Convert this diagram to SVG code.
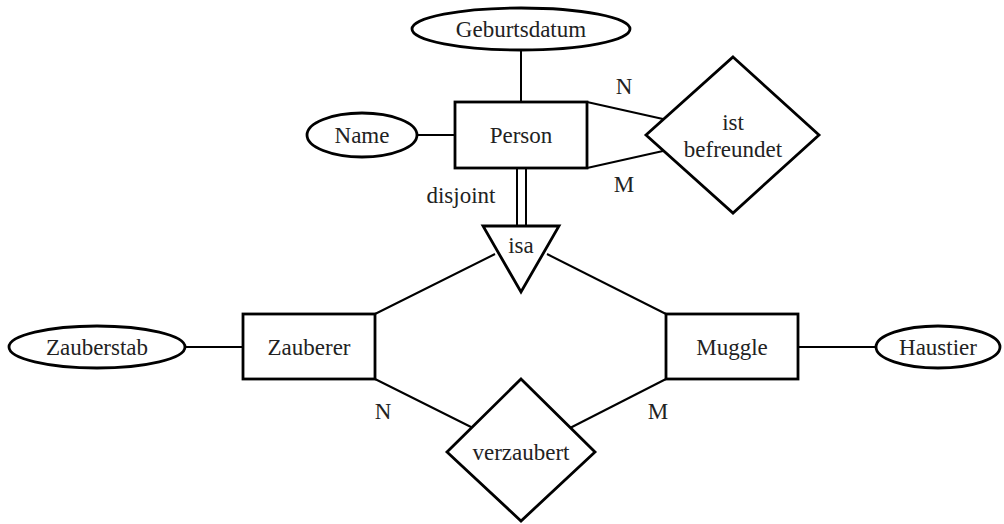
<svg xmlns="http://www.w3.org/2000/svg" width="1004" height="524" viewBox="0 0 1004 524">
<style>
.s{fill:#fff;stroke:#000;stroke-width:2.8}
.l{stroke:#000;stroke-width:2;fill:none}
.t{fill:#222;text-anchor:middle}
</style>
<rect width="1004" height="524" fill="#fff"/>
<g font-family="Liberation Serif, DejaVu Serif, serif" font-size="23" fill="#222" text-anchor="middle">
<g id="connectors">
<line class="l" x1="521" y1="50" x2="521" y2="102"/>
<line class="l" x1="417" y1="135" x2="455" y2="135"/>
<line class="l" x1="517" y1="168" x2="517" y2="226"/>
<line class="l" x1="526" y1="168" x2="526" y2="226"/>
<line class="l" x1="587" y1="102" x2="663" y2="119"/>
<line class="l" x1="587" y1="168" x2="663" y2="151"/>
<line class="l" x1="495" y1="254" x2="375" y2="314"/>
<line class="l" x1="547" y1="254" x2="666" y2="314"/>
<line class="l" x1="184" y1="347" x2="243" y2="347"/>
<line class="l" x1="798" y1="347" x2="876" y2="347"/>
<line class="l" x1="375" y1="379" x2="473" y2="428"/>
<line class="l" x1="666" y1="379" x2="570" y2="428"/>
<text class="t" x="624" y="94">N</text>
<text class="t" x="624" y="192">M</text>
<text class="t" x="461" y="203">disjoint</text>
<text class="t" x="383" y="419">N</text>
<text class="t" x="658" y="419">M</text>
</g>
<g id="geburtsdatum"><ellipse class="s" cx="521" cy="29" rx="109" ry="21"/><text class="t" x="521" y="37">Geburtsdatum</text></g>
<g id="name"><ellipse class="s" cx="362" cy="135" rx="55" ry="22"/><text class="t" x="362" y="143">Name</text></g>
<g id="person"><rect class="s" x="455" y="102" width="132" height="66"/><text class="t" x="521" y="143">Person</text></g>
<g id="ist-befreundet"><polygon class="s" points="733,57 819,135 733,213 646,135"/><text class="t" x="733" y="130">ist</text><text class="t" x="733" y="157">befreundet</text></g>
<g id="isa"><polygon class="s" points="483,226 559,226 521,292"/><text class="t" x="521" y="253">isa</text></g>
<g id="zauberer"><rect class="s" x="243" y="314" width="132" height="65"/><text class="t" x="309" y="355">Zauberer</text></g>
<g id="zauberstab"><ellipse class="s" cx="97" cy="347" rx="88" ry="21"/><text class="t" x="97" y="355">Zauberstab</text></g>
<g id="muggle"><rect class="s" x="666" y="314" width="132" height="65"/><text class="t" x="732" y="355">Muggle</text></g>
<g id="haustier"><ellipse class="s" cx="938" cy="347" rx="62" ry="21"/><text class="t" x="938" y="355">Haustier</text></g>
<g id="verzaubert"><polygon class="s" points="521,379 595,452 521,521 447,452"/><text class="t" x="521" y="460">verzaubert</text></g>
</g>
</svg>
